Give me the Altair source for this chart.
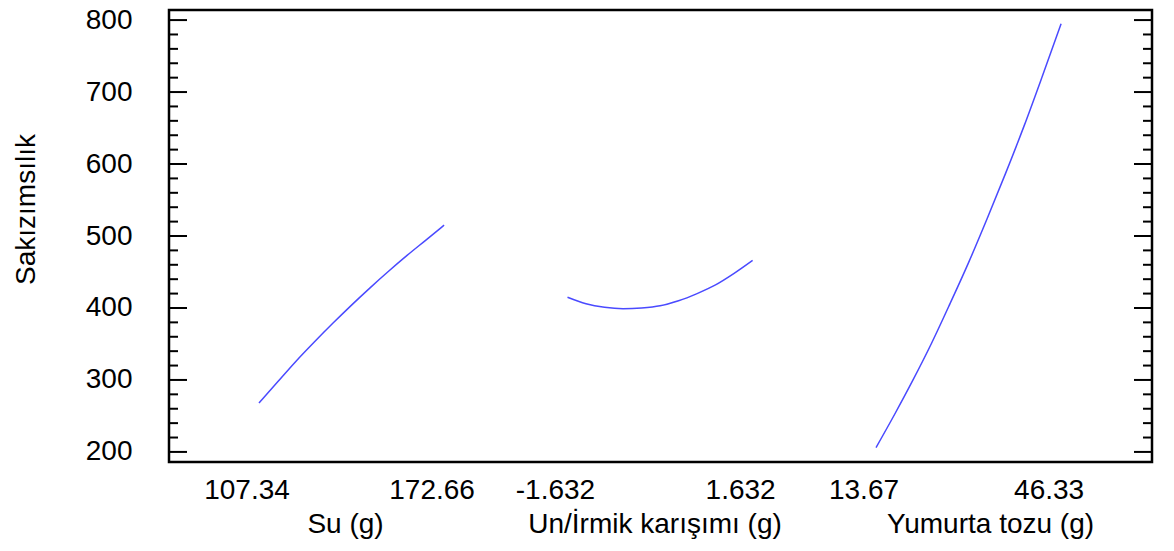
import altair as alt
import pandas as pd

# ---------------- data ----------------
factors = ["Su (g)", "Un/İrmik karışımı (g)", "Yumurta tozu (g)"]
low_levels = [107.34, -1.632, 13.67]
high_levels = [172.66, 1.632, 46.33]
tick_labels = ["107.34", "172.66", "-1.632", "1.632", "13.67", "46.33"]

su_x = [107.34, 113.87, 120.41, 126.94, 133.47, 140.0, 146.53, 153.06, 159.59, 166.13, 172.66]
su_y = [268, 297, 326, 353, 379, 404, 428, 451, 473, 494, 515]

un_x = [-1.632, -1.306, -0.979, -0.653, -0.326, 0.0, 0.326, 0.653, 0.979, 1.306, 1.632]
un_y = [415, 406, 401, 399, 400, 403, 410, 420, 432, 448, 466]

yt_x = [13.67, 16.94, 20.20, 23.47, 26.73, 30.0, 33.27, 36.53, 39.80, 43.06, 46.33]
yt_y = [206, 252, 300, 351, 406, 463, 524, 587, 653, 723, 795]

major_ticks = [200, 300, 400, 500, 600, 700, 800]
minor_ticks = [220, 240, 260, 280, 320, 340, 360, 380, 420, 440, 460, 480,
               520, 540, 560, 580, 620, 640, 660, 680, 720, 740, 760, 780]

# ---------------- layout ----------------
W, H = 983, 452
SEG = 0.6  # width of each factor segment in slot units
FONT = "Liberation Sans"
FS = 28
title_dx = [-6, -5, 22]

series_x = [su_x, un_x, yt_x]
series_y = [su_y, un_y, yt_y]
rows = []
for i, (xs, ys) in enumerate(zip(series_x, series_y)):
    lo, hi = low_levels[i], high_levels[i]
    for xv, yv in zip(xs, ys):
        rows.append({"factor": factors[i], "level": xv,
                     "pos": i + SEG * (xv - lo) / (hi - lo), "val": yv})
line_df = pd.DataFrame(rows)

tick_df = pd.DataFrame({
    "pos": [p for i in range(3) for p in (i, i + SEG)],
    "label": tick_labels,
})

xscale = alt.Scale(domain=[-0.2917, 2.8946], nice=False, zero=False)
yscale = alt.Scale(domain=[186, 814], nice=False, zero=False)

y_axis = alt.Axis(values=major_ticks, title="Sakızımsılık", domain=False,
                  ticks=False, tickSize=0, grid=False, labelFlush=False,
                  labelFont=FONT, labelFontSize=FS, labelColor="black",
                  labelPadding=37,
                  titleFont=FONT, titleFontSize=FS, titleFontWeight="normal",
                  titleColor="black", titleX=-143, titleY=199, titleAngle=270,
                  titleAlign="center", titleBaseline="middle")

lines = alt.Chart(line_df).mark_line(
    color="#4a4aff", strokeWidth=1.5, interpolate="monotone"
).encode(
    x=alt.X("pos:Q", scale=xscale, axis=None),
    y=alt.Y("val:Q", scale=yscale, axis=y_axis, title="Sakızımsılık"),
    detail="factor:N",
)

maj_df = pd.DataFrame({"val": major_ticks})
min_df = pd.DataFrame({"val": minor_ticks})

def tick_layer(df, x0, x1):
    return alt.Chart(df).mark_rule(color="black", strokeWidth=2).encode(
        y=alt.Y("val:Q", scale=yscale, axis=y_axis, title="Sakızımsılık"),
        x=alt.value(x0), x2=alt.value(x1),
    )

ticks = [
    tick_layer(maj_df, 0, 18), tick_layer(min_df, 0, 9),
    tick_layer(maj_df, W, W - 18), tick_layer(min_df, W, W - 9),
]

tick_text = alt.Chart(tick_df).mark_text(
    font=FONT, fontSize=FS, color="black", baseline="alphabetic", align="center", dx=-12
).encode(
    x=alt.X("pos:Q", scale=xscale, axis=None),
    y=alt.value(H + 37),
    text="label:N",
)

titles = []
for i, name in enumerate(factors):
    df = pd.DataFrame({"pos": [i + SEG / 2], "name": [name]})
    titles.append(
        alt.Chart(df).mark_text(
            font=FONT, fontSize=FS, color="black", baseline="alphabetic",
            align="center", dx=title_dx[i]
        ).encode(
            x=alt.X("pos:Q", scale=xscale, axis=None),
            y=alt.value(H + 71),
            text="name:N",
        )
    )

chart = alt.layer(lines, *ticks, tick_text, *titles).properties(
    width=W, height=H,
    autosize=alt.AutoSizeParams(type="none"),
    padding={"left": 161, "top": 2, "right": 5, "bottom": 80},
).configure_view(stroke="black", strokeWidth=2.5)

chart.save("out.html", embed_options={"renderer": "svg", "actions": False})
